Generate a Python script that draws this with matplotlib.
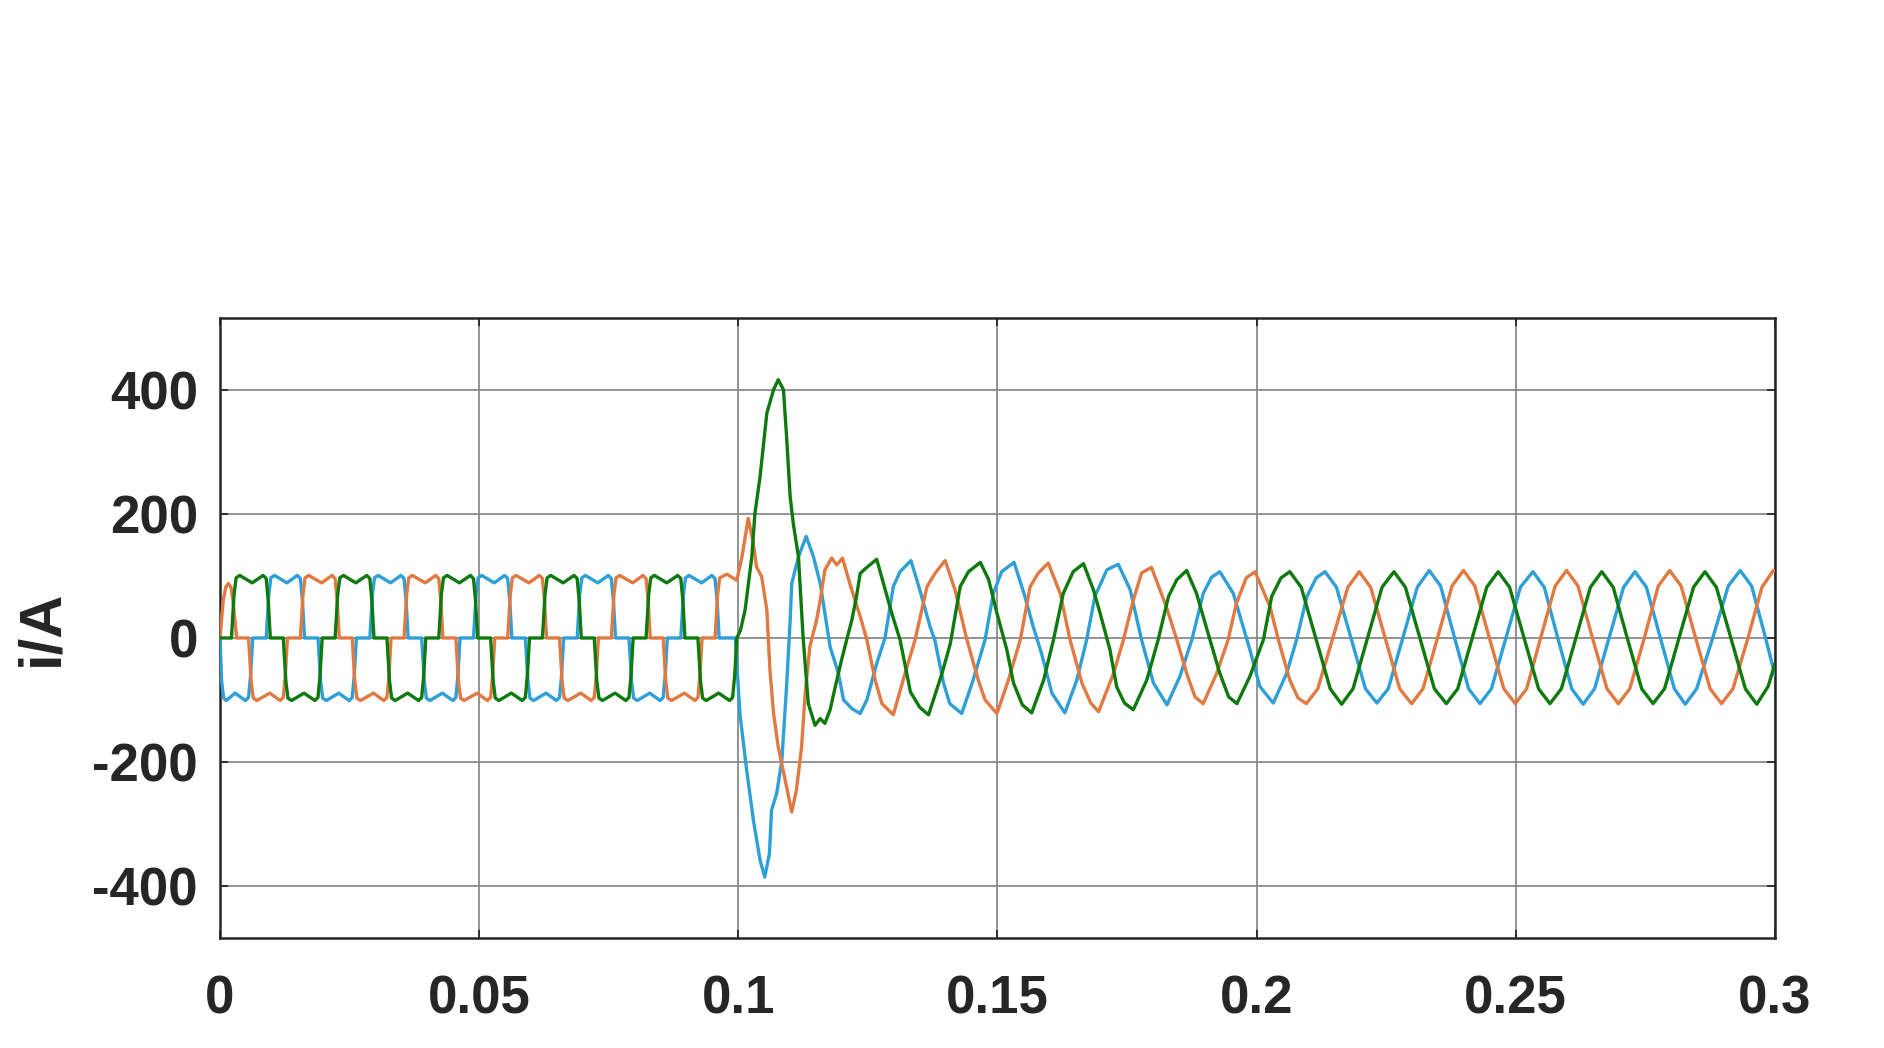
import numpy as np
import matplotlib
matplotlib.use('Agg')
import matplotlib.pyplot as plt

# three phase currents, (time in ms, current in A)
green_pts = [
    (0, 0), (2.2, 0), (2.7, 70), (3.1, 97), (3.8, 101), (6.2, 89), (8.3, 101), (8.9, 96), (9.3, 60), (9.7, 0),
    (12.2, 0), (12.7, -70), (13.1, -97), (13.8, -101), (16.2, -89), (18.3, -101), (18.9, -96), (19.3, -60), (19.7, 0),
    (22.2, 0), (22.7, 70), (23.1, 97), (23.8, 101), (26.2, 89), (28.3, 101), (28.9, 96), (29.3, 60), (29.7, 0),
    (32.2, 0), (32.7, -70), (33.1, -97), (33.8, -101), (36.2, -89), (38.3, -101), (38.9, -96), (39.3, -60), (39.7, 0),
    (42.2, 0), (42.7, 70), (43.1, 97), (43.8, 101), (46.2, 89), (48.3, 101), (48.9, 96), (49.3, 60), (49.7, 0),
    (52.2, 0), (52.7, -70), (53.1, -97), (53.8, -101), (56.2, -89), (58.3, -101), (58.9, -96), (59.3, -60), (59.7, 0),
    (62.2, 0), (62.7, 70), (63.1, 97), (63.8, 101), (66.2, 89), (68.3, 101), (68.9, 96), (69.3, 60), (69.7, 0),
    (72.2, 0), (72.7, -70), (73.1, -97), (73.8, -101), (76.2, -89), (78.3, -101), (78.9, -96), (79.3, -60), (79.7, 0),
    (82.2, 0), (82.7, 70), (83.1, 97), (83.8, 101), (86.2, 89), (88.3, 101), (88.9, 96), (89.3, 60), (89.7, 0),
    (92.2, 0), (92.7, -70), (93.1, -97), (93.8, -101), (96.2, -89), (98.3, -101), (98.9, -96), (99.3, -60), (99.7, 0),
    (100.4, 12), (101.3, 45), (102.6, 131), (103.2, 201), (104.2, 261),
    (105.5, 363), (106.8, 401), (107.7, 417), (108.7, 401), (109.3, 326),
    (110.0, 228), (110.6, 185), (111.6, 131), (112.5, 0), (113.5, -106),
    (114.8, -141), (115.8, -130), (116.7, -138), (117.7, -116), (119.0, -68),
    (119.9, -36), (120.9, -3), (121.9, 29), (122.8, 67), (123.5, 104),
    (124.5, 112), (126.7, 127), (128.0, 88), (129.6, 40), (131.2, -3),
    (133.2, -87), (135.0, -112), (136.7, -124), (139.3, -57), (140.9, -9), (142.8, 83),
    (144.4, 107), (146.7, 122), (148.3, 94), (149.9, 40), (151.8, -19),
    (153.1, -73), (154.8, -108), (156.6, -121), (158.9, -68), (160.8, -3), (162.7, 72),
    (164.6, 107), (166.6, 120), (168.5, 78), (169.8, 40), (171.7, -19),
    (173.0, -79), (174.5, -105), (176.2, -116), (178.8, -68), (181.0, -3), (183.0, 67),
    (184.6, 94), (186.5, 109), (188.4, 72), (191.0, -3), (192.9, -57),
    (194.6, -95), (196.2, -106), (198.7, -62), (201.3, -3), (202.9, 67), (204.7, 97), (206.4, 107),
    (208.6, 82), (211.4, 0), (214.2, -82), (216.4, -107), (218.6, -82),
    (221.4, 0), (224.2, 82), (226.5, 107), (228.7, 82), (231.5, 0),
    (234.3, -82), (236.6, -106), (238.8, -82), (241.6, 0), (244.4, 82),
    (246.6, 107), (248.8, 82), (251.6, 0), (254.4, -82), (256.6, -106),
    (258.8, -82), (261.6, 0), (264.4, 82), (266.6, 107), (268.8, 82),
    (271.5, 0), (274.3, -82), (276.5, -106), (278.7, -82), (281.5, 0),
    (284.3, 82), (286.5, 107), (288.7, 82), (291.5, 0), (294.3, -82),
    (296.5, -107), (298.7, -78), (300.0, -42),
]

blue_pts = [
    (0, 0), (0.3, -70), (0.7, -97), (1.2, -101), (2.9, -89), (4.9, -101), (5.5, -96), (5.9, -60), (6.3, 0),
    (8.9, 0), (9.4, 70), (9.8, 97), (10.5, 101), (12.9, 89), (14.9, 101), (15.5, 96), (15.9, 60), (16.3, 0),
    (18.9, 0), (19.4, -70), (19.8, -97), (20.5, -101), (22.9, -89), (24.9, -101), (25.5, -96), (25.9, -60), (26.3, 0),
    (28.9, 0), (29.4, 70), (29.8, 97), (30.5, 101), (32.9, 89), (34.9, 101), (35.5, 96), (35.9, 60), (36.3, 0),
    (38.9, 0), (39.4, -70), (39.8, -97), (40.5, -101), (42.9, -89), (44.9, -101), (45.5, -96), (45.9, -60), (46.3, 0),
    (48.9, 0), (49.4, 70), (49.8, 97), (50.5, 101), (52.9, 89), (54.9, 101), (55.5, 96), (55.9, 60), (56.3, 0),
    (58.9, 0), (59.4, -70), (59.8, -97), (60.5, -101), (62.9, -89), (64.9, -101), (65.5, -96), (65.9, -60), (66.3, 0),
    (68.9, 0), (69.4, 70), (69.8, 97), (70.5, 101), (72.9, 89), (74.9, 101), (75.5, 96), (75.9, 60), (76.3, 0),
    (78.9, 0), (79.4, -70), (79.8, -97), (80.5, -101), (82.9, -89), (84.9, -101), (85.5, -96), (85.9, -60), (86.3, 0),
    (88.9, 0), (89.4, 70), (89.8, 97), (90.5, 101), (92.9, 89), (94.9, 101), (95.5, 96), (95.9, 60), (96.3, 0),
    (99.4, 0), (99.7, -41), (100.3, -122), (101.6, -213), (102.9, -294),
    (104.2, -359), (105.1, -386), (106.0, -348), (106.4, -278), (107.4, -251),
    (108.4, -197), (109.3, -79), (110.0, 29), (110.3, 88), (111.6, 131),
    (113.1, 164), (114.5, 131), (115.8, 88), (117.0, 24), (117.7, -14),
    (119.3, -57), (120.3, -100), (121.9, -114), (123.5, -122), (124.8, -100),
    (126.7, -41), (128.3, 0), (129.9, 83), (131.2, 107), (133.3, 125),
    (135.0, 78), (137.0, 18), (137.9, -3), (139.6, -73), (140.8, -106),
    (143.1, -122), (145.3, -68), (147.6, -3), (149.2, 72), (150.8, 107),
    (153.2, 122), (155.3, 67), (156.9, 18), (158.5, -25), (160.5, -89),
    (163.0, -121), (165.3, -68), (167.2, -3), (168.8, 67), (171.1, 110),
    (173.3, 119), (175.6, 78), (177.8, -3), (180.1, -73), (182.7, -108),
    (185.2, -62), (187.5, -3), (189.7, 72), (191.3, 98), (192.9, 107), (195.5, 72),
    (198.7, -19), (200.6, -78), (203.2, -105), (205.8, -57), (207.7, -3),
    (209.7, 67), (211.5, 97), (213.2, 107), (215.4, 82), (218.2, 0), (221.0, -82),
    (223.2, -105), (225.4, -82), (228.2, 0), (231.0, 82), (233.3, 109),
    (235.5, 84), (238.2, 0), (240.9, -82), (243.1, -106), (245.3, -82),
    (248.1, 0), (250.9, 82), (253.3, 107), (255.5, 82), (258.1, 0),
    (260.8, -82), (263.0, -107), (265.2, -82), (268.0, 0), (270.8, 82),
    (273.0, 107), (275.2, 82), (277.9, 0), (280.6, -82), (282.7, -107),
    (284.9, -82), (288.0, 0), (291.0, 84), (293.3, 109), (295.5, 84),
    (298.2, 0), (300.0, -60),
]

orange_pts = [
    (0, 0), (0.6, 60), (1.1, 82), (1.6, 88), (2.1, 82), (2.5, 60), (3.2, 0),
    (5.5, 0), (6.0, -70), (6.4, -97), (7.1, -101), (9.6, -89), (11.6, -101), (12.2, -96), (12.6, -60), (13.0, 0),
    (15.5, 0), (16.0, 70), (16.4, 97), (17.1, 101), (19.6, 89), (21.6, 101), (22.2, 96), (22.6, 60), (23.0, 0),
    (25.5, 0), (26.0, -70), (26.4, -97), (27.1, -101), (29.6, -89), (31.6, -101), (32.2, -96), (32.6, -60), (33.0, 0),
    (35.5, 0), (36.0, 70), (36.4, 97), (37.1, 101), (39.6, 89), (41.6, 101), (42.2, 96), (42.6, 60), (43.0, 0),
    (45.5, 0), (46.0, -70), (46.4, -97), (47.1, -101), (49.6, -89), (51.6, -101), (52.2, -96), (52.6, -60), (53.0, 0),
    (55.5, 0), (56.0, 70), (56.4, 97), (57.1, 101), (59.6, 89), (61.6, 101), (62.2, 96), (62.6, 60), (63.0, 0),
    (65.5, 0), (66.0, -70), (66.4, -97), (67.1, -101), (69.6, -89), (71.6, -101), (72.2, -96), (72.6, -60), (73.0, 0),
    (75.5, 0), (76.0, 70), (76.4, 97), (77.1, 101), (79.6, 89), (81.6, 101), (82.2, 96), (82.6, 60), (83.0, 0),
    (85.5, 0), (86.0, -70), (86.4, -97), (87.1, -101), (89.6, -89), (91.6, -101), (92.2, -96), (92.6, -60), (93.0, 0),
    (95.5, 0), (96.0, 70), (96.4, 97), (97.8, 103), (99.7, 93),
    (100.7, 131), (101.9, 193), (102.9, 153), (103.5, 115), (104.5, 99),
    (105.5, 45), (106.1, -52), (106.8, -122), (107.7, -176), (109.3, -240),
    (110.3, -281), (111.2, -246), (112.2, -176), (112.9, -89), (113.8, -14),
    (115.1, 29), (115.8, 61), (116.7, 110), (118.0, 129), (119.0, 118),
    (120.1, 129), (121.5, 88), (123.5, 35), (124.8, -3), (126.4, -68),
    (127.7, -106), (129.9, -124), (131.8, -68), (134.1, -3), (136.4, 83),
    (138.0, 105), (139.9, 125), (141.8, 78), (144.1, -3), (146.3, -68),
    (147.6, -100), (149.9, -122), (152.1, -68), (154.4, -3), (156.3, 83),
    (157.9, 105), (159.8, 121), (162.1, 72), (164.0, -3), (166.3, -73),
    (168.0, -105), (169.5, -119), (172.4, -57), (174.3, -3), (176.2, 61), (177.8, 105),
    (179.7, 114), (182.6, 50), (184.6, -3), (186.5, -57), (188.1, -95), (189.7, -106),
    (192.3, -57), (194.5, -3), (196.1, 56), (198.0, 97), (199.7, 107), (202.6, 50),
    (204.2, -3), (206.4, -68), (208.0, -97), (209.6, -106), (211.8, -82), (214.7, 0),
    (217.6, 82), (219.8, 107), (222.0, 82), (224.8, 0), (227.6, -82),
    (229.9, -106), (232.1, -82), (234.9, 0), (237.7, 84), (239.9, 109),
    (242.1, 84), (244.9, 0), (247.7, -82), (249.9, -106), (252.1, -82),
    (254.8, 0), (257.6, 84), (259.8, 109), (262.0, 84), (264.8, 0),
    (267.6, -82), (269.8, -106), (272.0, -82), (274.8, 0), (277.5, 84),
    (279.7, 109), (281.9, 84), (284.7, 0), (287.5, -82), (289.7, -106),
    (291.9, -82), (294.8, 0), (297.5, 82), (299.7, 109), (300.0, 108),
]

x_ticks = [0, 0.05, 0.1, 0.15, 0.2, 0.25, 0.3]
x_labels = ['0', '0.05', '0.1', '0.15', '0.2', '0.25', '0.3']
y_ticks = [-400, -200, 0, 200, 400]
y_labels = ['-400', '-200', '0', '200', '400']

plt.rcParams['font.family'] = ['Liberation Sans', 'DejaVu Sans']
plt.rcParams['font.weight'] = 'bold'

fig = plt.figure(figsize=(18.84, 10.48), dpi=100)
ax = fig.add_axes([0.1168, 0.1046, 0.8253, 0.5916])

for pts, col in ((blue_pts, '#2F9FD8'), (orange_pts, '#E07A42'), (green_pts, '#0E7A0E')):
    t, i = np.array(pts).T
    ax.plot(t / 1000, i, color=col, lw=2.4, zorder=3, solid_joinstyle='round')

ax.set_xlim(0, 0.3)
ax.set_ylim(-485, 516)
ax.set_xticks(x_ticks)
ax.set_xticklabels(x_labels)
ax.set_yticks(y_ticks)
ax.set_yticklabels(y_labels)
ax.grid(True, color='#8a8a8a', lw=1.3)
ax.tick_params(direction='in', length=6, width=1.3, top=True, right=True,
               labelsize=38, colors='#262626')
ax.tick_params(axis='x', pad=26)
ax.tick_params(axis='y', pad=16)
for s in ax.spines.values():
    s.set_color('#262626')
    s.set_linewidth(1.8)

fig.text(0.0223, 0.401, 'i/A', rotation=90, ha='center', va='center',
         fontsize=43, fontweight='bold', color='#262626')

fig.savefig('out.png', dpi=100)
plt.close(fig)
